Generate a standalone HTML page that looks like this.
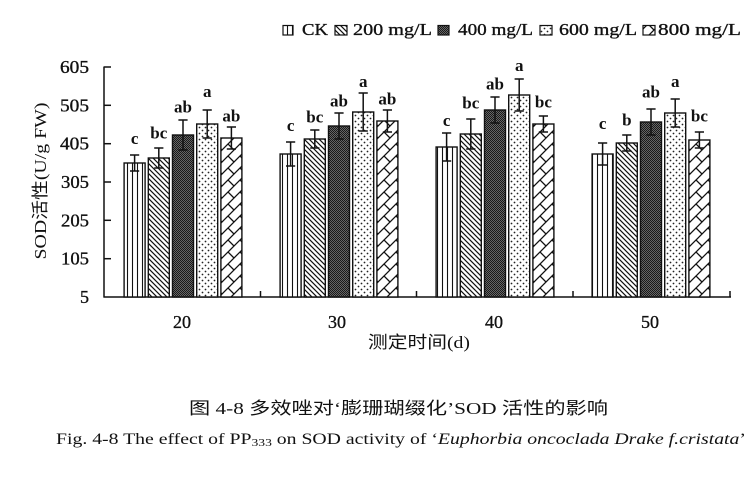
<!DOCTYPE html>
<html><head><meta charset="utf-8"><style>
html,body{margin:0;padding:0;background:#fff}svg{display:block}
.s{font-family:"Liberation Serif","Times New Roman",serif}
.c{font-family:"Liberation Serif","Noto Sans CJK SC","WenQuanYi Zen Hei",sans-serif}
.h{stroke:#111;stroke-width:0.35px}
</style></head>
<body>
<svg width="755" height="489" viewBox="0 0 755 489" xmlns="http://www.w3.org/2000/svg">
<defs>
<pattern id="p0" patternUnits="userSpaceOnUse" width="5" height="5"><rect width="5" height="5" fill="#fff"/><line x1="2.5" y1="0" x2="2.5" y2="5" stroke="#111" stroke-width="1.1"/></pattern>
<pattern id="p1" patternUnits="userSpaceOnUse" width="5" height="5"><rect width="5" height="5" fill="#fff"/><path d="M-1,-1 L6,6 M-1,4 L1,6 M4,-1 L6,1" stroke="#111" stroke-width="1.2"/></pattern>
<pattern id="p2" patternUnits="userSpaceOnUse" width="2" height="2"><rect width="2" height="2" fill="#666"/><rect width="1" height="1" fill="#1a1a1a"/><rect x="1" y="1" width="1" height="1" fill="#1a1a1a"/></pattern>
<pattern id="p3" patternUnits="userSpaceOnUse" width="6" height="6"><rect width="6" height="6" fill="#fff"/><circle cx="1.5" cy="1.5" r="0.9" fill="#222"/><circle cx="4.5" cy="4.5" r="0.9" fill="#222"/></pattern>
<pattern id="p4" patternUnits="userSpaceOnUse" width="12" height="12"><rect width="12" height="12" fill="#fff"/><path d="M0,12 L12,0 M-1,1 L1,-1 M11,13 L13,11 M0,0 L6,6" stroke="#111" stroke-width="1.3"/></pattern>
</defs>
<rect width="755" height="489" fill="#fff"/>

<!-- legend -->
<g stroke="#111" stroke-width="1.2">
<rect x="283" y="25.5" width="10" height="9.5" fill="url(#p0)"/>
<rect x="335" y="25.5" width="12" height="9.5" fill="url(#p1)"/>
<rect x="438" y="25.5" width="11" height="9.5" fill="url(#p2)"/>
<rect x="540" y="25.5" width="12" height="9.5" fill="url(#p3)"/>
<rect x="643" y="25.5" width="12" height="9.5" fill="url(#p4)"/>
</g>
<g class="s h" font-size="17" fill="#111">
<text x="302" y="35" textLength="26" lengthAdjust="spacingAndGlyphs">CK</text>
<text x="353" y="35" textLength="79" lengthAdjust="spacingAndGlyphs">200 mg/L</text>
<text x="458" y="35" textLength="75" lengthAdjust="spacingAndGlyphs">400 mg/L</text>
<text x="559" y="35" textLength="78" lengthAdjust="spacingAndGlyphs">600 mg/L</text>
<text x="658" y="35" textLength="83" lengthAdjust="spacingAndGlyphs">800 mg/L</text>
</g>

<!-- axes -->
<g stroke="#111" stroke-width="1.5" fill="none">
<line x1="104" y1="66.5" x2="104" y2="297.5"/>
<line x1="103.5" y1="297" x2="731" y2="297"/>
<line x1="104" y1="67" x2="111" y2="67"/>
<line x1="104" y1="105.3" x2="111" y2="105.3"/>
<line x1="104" y1="143.7" x2="111" y2="143.7"/>
<line x1="104" y1="182" x2="111" y2="182"/>
<line x1="104" y1="220.3" x2="111" y2="220.3"/>
<line x1="104" y1="258.7" x2="111" y2="258.7"/>
<line x1="260.5" y1="297" x2="260.5" y2="291"/>
<line x1="416.5" y1="297" x2="416.5" y2="291"/>
<line x1="573" y1="297" x2="573" y2="291"/>
<line x1="730" y1="297" x2="730" y2="291"/>
</g>
<g class="s h" font-size="18" fill="#111" text-anchor="end">
<text x="89" y="73" textLength="29" lengthAdjust="spacingAndGlyphs">605</text>
<text x="89" y="111.3" textLength="29" lengthAdjust="spacingAndGlyphs">505</text>
<text x="89" y="149.7" textLength="29" lengthAdjust="spacingAndGlyphs">405</text>
<text x="89" y="188" textLength="28" lengthAdjust="spacingAndGlyphs">305</text>
<text x="89" y="226.3" textLength="28" lengthAdjust="spacingAndGlyphs">205</text>
<text x="89" y="264.7" textLength="28" lengthAdjust="spacingAndGlyphs">105</text>
<text x="89" y="303">5</text>
</g>
<g class="s h" font-size="18" fill="#111" text-anchor="middle">
<text x="182" y="328">20</text>
<text x="337" y="328">30</text>
<text x="494" y="328">40</text>
<text x="650" y="328">50</text>
</g>
<text class="c" x="368" y="348" font-size="17" fill="#111" textLength="102" lengthAdjust="spacingAndGlyphs">测定时间(d)</text>
<text class="c" transform="translate(46,181) rotate(-90)" text-anchor="middle" font-size="17" fill="#111" textLength="157" lengthAdjust="spacingAndGlyphs">SOD活性(U/g FW)</text>

<!-- bars -->
<g stroke="#111" stroke-width="1.4">
<rect x="124.1" y="163" width="21" height="134" fill="url(#p0)"/>
<rect x="148.3" y="158" width="21" height="139" fill="url(#p1)"/>
<rect x="172.5" y="135" width="21" height="162" fill="url(#p2)"/>
<rect x="196.7" y="124" width="21" height="173" fill="url(#p3)"/>
<rect x="220.9" y="138" width="21" height="159" fill="url(#p4)"/>

<rect x="280.1" y="154" width="21" height="143" fill="url(#p0)"/>
<rect x="304.3" y="139" width="21" height="158" fill="url(#p1)"/>
<rect x="328.5" y="126" width="21" height="171" fill="url(#p2)"/>
<rect x="352.7" y="112" width="21" height="185" fill="url(#p3)"/>
<rect x="376.9" y="121" width="21" height="176" fill="url(#p4)"/>

<rect x="436.1" y="147" width="21" height="150" fill="url(#p0)"/>
<rect x="460.3" y="134" width="21" height="163" fill="url(#p1)"/>
<rect x="484.5" y="110" width="21" height="187" fill="url(#p2)"/>
<rect x="508.7" y="95" width="21" height="202" fill="url(#p3)"/>
<rect x="532.9" y="124" width="21" height="173" fill="url(#p4)"/>

<rect x="592.1" y="154" width="21" height="143" fill="url(#p0)"/>
<rect x="616.3" y="143" width="21" height="154" fill="url(#p1)"/>
<rect x="640.5" y="122" width="21" height="175" fill="url(#p2)"/>
<rect x="664.7" y="113" width="21" height="184" fill="url(#p3)"/>
<rect x="688.9" y="140" width="21" height="157" fill="url(#p4)"/>
</g>

<!-- error bars -->
<g stroke="#111" stroke-width="1.5" fill="none">
<path d="M134.6,155V171M130,155H139.2M130,171H139.2"/>
<path d="M158.8,148V168M154.2,148H163.4M154.2,168H163.4"/>
<path d="M183,120V150M178.4,120H187.6M178.4,150H187.6"/>
<path d="M207.2,110V138M202.6,110H211.8M202.6,138H211.8"/>
<path d="M231.4,127V149M226.8,127H236M226.8,149H236"/>

<path d="M290.6,142V166M286,142H295.2M286,166H295.2"/>
<path d="M314.8,130V148M310.2,130H319.4M310.2,148H319.4"/>
<path d="M339,113V139M334.4,113H343.6M334.4,139H343.6"/>
<path d="M363.2,93V131M358.6,93H367.8M358.6,131H367.8"/>
<path d="M387.4,110V132M382.8,110H392M382.8,132H392"/>

<path d="M446.6,133V161M442,133H451.2M442,161H451.2"/>
<path d="M470.8,119V149M466.2,119H475.4M466.2,149H475.4"/>
<path d="M495,97V123M490.4,97H499.6M490.4,123H499.6"/>
<path d="M519.2,79V111M514.6,79H523.8M514.6,111H523.8"/>
<path d="M543.4,116V132M538.8,116H548M538.8,132H548"/>

<path d="M602.6,143V165M598,143H607.2M598,165H607.2"/>
<path d="M626.8,135V151M622.2,135H631.4M622.2,151H631.4"/>
<path d="M651,109V135M646.4,109H655.6M646.4,135H655.6"/>
<path d="M675.2,99V127M670.6,99H679.8M670.6,127H679.8"/>
<path d="M699.4,132V148M694.8,132H704M694.8,148H704"/>
</g>

<!-- significance labels -->
<g class="s" font-size="17" font-weight="bold" fill="#111" text-anchor="middle">
<text x="134.6" y="144">c</text>
<text x="158.8" y="138.5">bc</text>
<text x="183" y="112.5">ab</text>
<text x="207.2" y="97">a</text>
<text x="231.4" y="121.5">ab</text>

<text x="290.6" y="131">c</text>
<text x="314.8" y="122.5">bc</text>
<text x="339" y="106.5">ab</text>
<text x="363.2" y="87">a</text>
<text x="387.4" y="104.5">ab</text>

<text x="446.6" y="126">c</text>
<text x="470.8" y="108.5">bc</text>
<text x="495" y="89.5">ab</text>
<text x="519.2" y="71">a</text>
<text x="543.4" y="107.5">bc</text>

<text x="602.6" y="129">c</text>
<text x="626.8" y="125.5">b</text>
<text x="651" y="97.5">ab</text>
<text x="675.2" y="87">a</text>
<text x="699.4" y="121.5">bc</text>
</g>

<!-- captions -->
<text class="c" x="189" y="414" font-size="17" fill="#111" textLength="419" lengthAdjust="spacingAndGlyphs">图 4-8  多效唑对‘膨珊瑚缀化’SOD 活性的影响</text>
<text class="s" x="56" y="444" font-size="16" fill="#111" textLength="690" lengthAdjust="spacingAndGlyphs">Fig. 4-8 The effect of PP<tspan font-size="11" dy="2">333</tspan><tspan dy="-2"> on SOD activity of ‘</tspan><tspan font-style="italic">Euphorbia oncoclada Drake f.cristata</tspan>’</text>
</svg>
</body></html>
